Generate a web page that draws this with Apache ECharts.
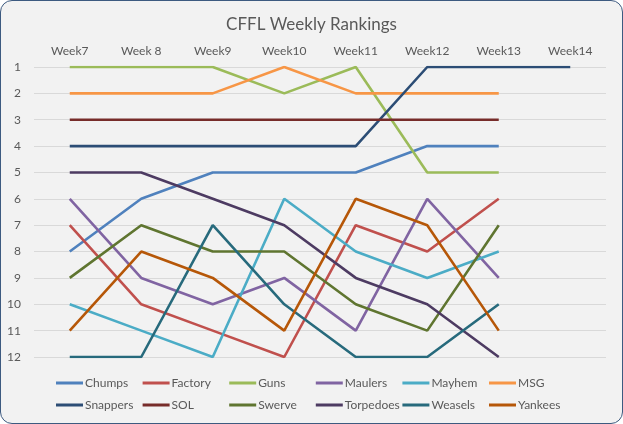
<!DOCTYPE html>
<html><head><meta charset="utf-8">
<script src="https://cdn.jsdelivr.net/npm/echarts@6/dist/echarts.min.js"></script>
<style>
html,body{margin:0;padding:0;background:#fff;}
#c{width:621px;height:422px;border:1px solid #3d5a80;border-radius:12px;background:#f2f2f2;overflow:hidden;}
</style></head>
<body><div id="c"></div>
<script>
const weeks = ["Week7","Week 8","Week9","Week10","Week11","Week12","Week13","Week14"];
const rankTicks = [1,2,3,4,5,6,7,8,9,10,11,12];
const chumps    = [8,6,5,5,5,4,4,null];
const factory   = [7,10,11,12,7,8,6,null];
const guns      = [1,1,1,2,1,5,5,null];
const maulers   = [6,9,10,9,11,6,9,null];
const mayhem    = [10,11,12,6,8,9,8,null];
const msg       = [2,2,2,1,2,2,2,null];
const snappers  = [4,4,4,4,4,1,1,1];
const sol       = [3,3,3,3,3,3,3,null];
const swerve    = [9,7,8,8,10,11,7,null];
const torpedoes = [5,5,6,7,9,10,12,null];
const weasels   = [12,12,7,10,12,12,10,null];
const yankees   = [11,8,9,11,6,7,11,null];

const seriesDefs = [
  ["Chumps", chumps, "#4F81BD"],
  ["Factory", factory, "#C0504D"],
  ["Guns", guns, "#9BBB59"],
  ["Maulers", maulers, "#8064A2"],
  ["Mayhem", mayhem, "#4BACC6"],
  ["MSG", msg, "#F79646"],
  ["Snappers", snappers, "#2C4D75"],
  ["SOL", sol, "#772C2A"],
  ["Swerve", swerve, "#5F7530"],
  ["Torpedoes", torpedoes, "#4D3B62"],
  ["Weasels", weasels, "#276A7C"],
  ["Yankees", yankees, "#B65708"]
];
const font = "Lato, 'Open Sans', sans-serif";
const chart = echarts.init(document.getElementById('c'));
const legends = seriesDefs.map(([name], i) => ({
  data: [name],
  itemWidth: 27, itemHeight: 3, icon: 'rect', padding: 0,
  left: 55 + 86.6 * (i % 6),
  top: i < 6 ? 376 : 398,
  textStyle: {color: '#595959', fontSize: 12, fontFamily: font, padding: [0,0,0,-3]}
}));
chart.setOption({
  animation: false,
  backgroundColor: 'transparent',
  title: {text: 'CFFL Weekly Rankings', left: 'center', top: 10,
    textStyle: {color: '#595959', fontSize: 17, fontWeight: 'normal', fontFamily: font}},
  legend: legends,
  grid: {left: 33, right: 16, top: 66, bottom: 66},
  xAxis: {type: 'category', data: weeks, position: 'top', boundaryGap: true,
    axisLine: {show: false}, axisTick: {show: false},
    axisLabel: {color: '#595959', fontSize: 12, fontFamily: font, margin: 10}},
  yAxis: {type: 'value', inverse: true, min: 1, max: 12, interval: 1,
    axisLine: {show: false}, axisTick: {show: false},
    splitLine: {lineStyle: {color: '#d9d9d9', width: 1}},
    axisLabel: {color: '#595959', fontSize: 12, fontFamily: font, margin: 13,
      formatter: v => rankTicks.includes(v) ? String(v) : ''}},
  series: seriesDefs.map(([name, data, color]) => ({
    name, type: 'line', data, color, symbol: 'none', connectNulls: false,
    lineStyle: {width: 2.6, color}
  }))
});
</script></body></html>
